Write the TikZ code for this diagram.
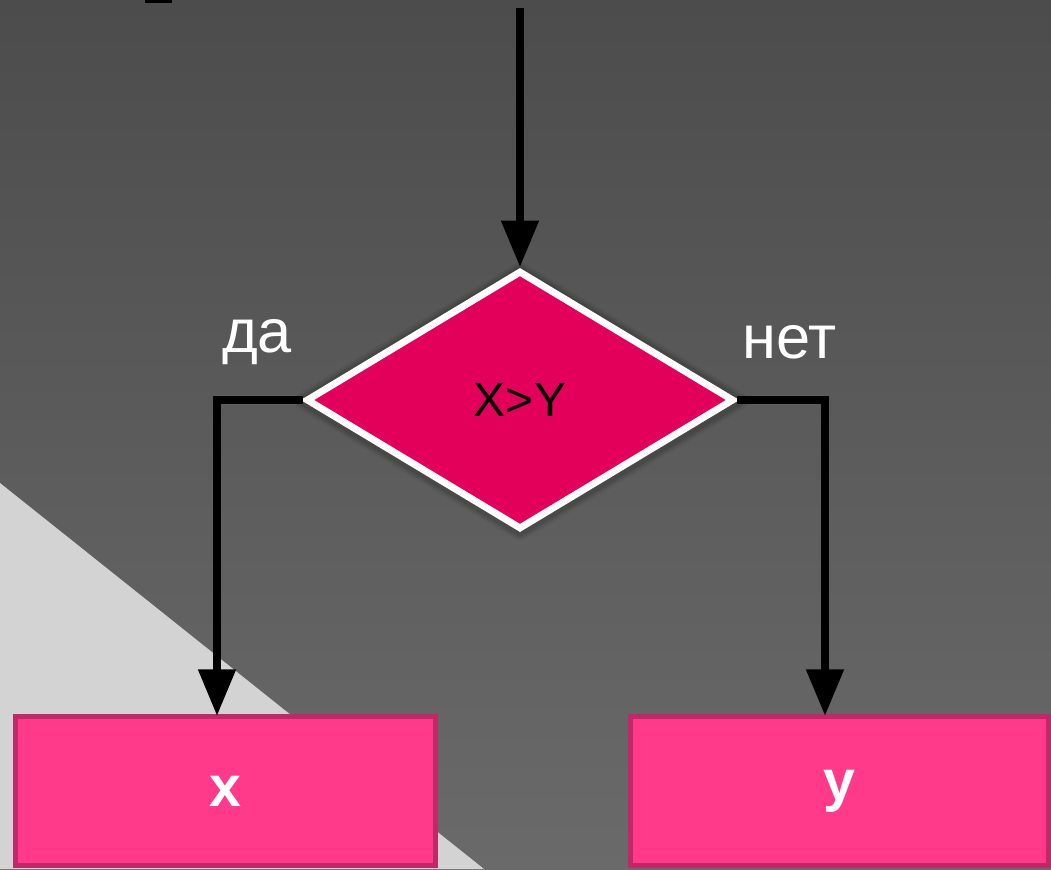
\documentclass[tikz,border=0pt]{standalone}
\usepackage{fontspec}
\setmainfont{Liberation Sans}
\usetikzlibrary{arrows.meta,shapes.geometric}
\definecolor{bgtop}{RGB}{76,76,76}
\definecolor{bgbot}{RGB}{106,106,106}
\definecolor{lightbg}{RGB}{211,211,211}
\definecolor{decfill}{RGB}{226,0,90}
\definecolor{boxfill}{RGB}{255,58,138}
\definecolor{boxline}{RGB}{192,40,104}
\begin{document}
\begin{tikzpicture}[x=0.75pt,y=-0.75pt,
  decision/.style={diamond,draw=white,line width=5.2pt,fill=decfill,inner sep=0pt,
    minimum width=321pt,minimum height=194pt,font=\fontsize{36}{40}\selectfont,text=black},
  resbox/.style={rectangle,draw=boxline,line width=3.6pt,fill=boxfill,inner sep=0pt,
    minimum height=111.75pt,font=\bfseries\fontsize{43}{47}\selectfont,text=white},
  conn/.style={line width=6pt,draw=black,-{Triangle[length=35pt,width=27pt]}},
  lbl/.style={font=\fontsize{46}{50}\selectfont,text=white,inner sep=0pt}]
\useasboundingbox (0,0) rectangle (1051,869);
\shade[top color=bgtop,bottom color=bgbot] (0,0) rectangle (1051,869);
\fill[lightbg] (0,483) -- (0,869) -- (484,869) -- cycle;
\fill[black] (145,0) rectangle (172,3);
% soft shadow of the diamond
\foreach \w/\o in {14/0.05,11/0.07,8/0.09}{
  \draw[line width=\w pt,black,opacity=\o,line join=round] (520,272) -- (738,401) -- (520,531) -- (304,401) -- cycle;
}
\node[decision] (d) at (520,400) {X>Y};
\node[resbox,minimum width=315pt] (bx) at (225.5,791) {x};
\node[resbox,minimum width=313.5pt] (by) at (839.5,791) {y};
\coordinate (start) at (520,8);
\coordinate (bxin) at (217,716);
\coordinate (byin) at (825,716);
\draw[conn] (start) -- (d.north);
\draw[conn] (d.west) -| (bxin);
\draw[conn] (d.east) -| (byin);
\node[lbl] (lda) at (257,342) {да};
\node[lbl] (lnet) at (790,342) {нет};
\end{tikzpicture}
\end{document}
